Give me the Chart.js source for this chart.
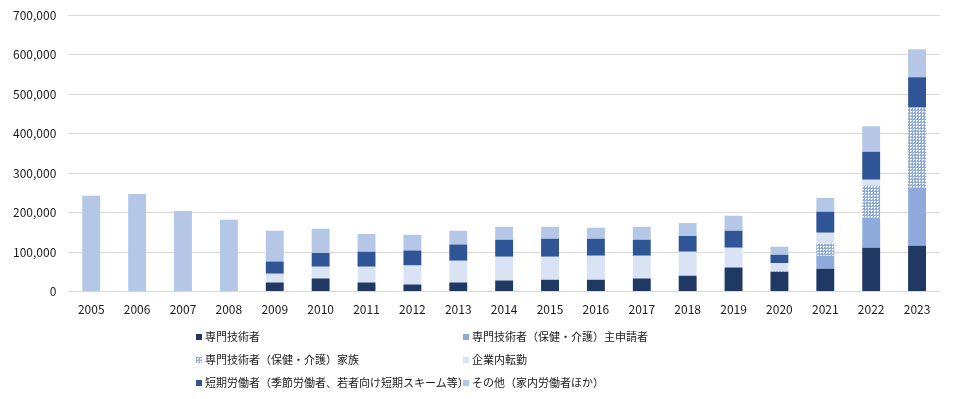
<!DOCTYPE html>
<html>
<head>
<meta charset="utf-8">
<script src="https://cdn.jsdelivr.net/npm/chart.js@4"></script>
<style>
body { margin: 0; background: #fff; font-family: "Noto Sans CJK JP", sans-serif; overflow: hidden; }
#wrap { position: relative; width: 954px; height: 399px; overflow: hidden; }
#chartBox { position: absolute; left: 0; top: -4px; width: 954px; height: 332px; }
#legend { position: absolute; left: 0; top: 0; width: 954px; height: 399px; pointer-events: none; }
.item { position: absolute; font-size: 11px; color: #1a1a1a; white-space: nowrap; line-height: 14px; }
.box { display: inline-block; width: 6px; height: 6px; margin-right: 3px; vertical-align: 1px; }
</style>
</head>
<body>
<div id="wrap">
  <div id="chartBox"><canvas id="canvas1"></canvas></div>
  <div id="legend"></div>
</div>
<script>
const years = ['2005','2006','2007','2008','2009','2010','2011','2012','2013','2014','2015','2016','2017','2018','2019','2020','2021','2022','2023'];

const skilled    = [0,0,0,0,23000,33000,23000,18000,23000,28000,30000,30000,33000,40000,61000,50000,58000,111000,116000];
const careMain   = [0,0,0,0,0,0,0,0,0,0,0,0,0,0,0,0,33000,76000,147000];
const careFamily = [0,0,0,0,0,0,0,0,0,0,0,0,0,0,0,1500,30000,81000,204000];
const transfer   = [0,0,0,0,22000,30000,40000,48000,55000,60000,58000,61000,58000,61000,50000,20000,28000,15000,0];
const shortTerm  = [0,0,0,0,31000,35000,38000,38000,41000,43000,46000,43000,40000,40000,43000,22000,53000,71000,76000];
const others     = [243000,247000,204000,182000,78000,61000,45000,40000,35000,33000,30000,28000,33000,33000,38000,20000,35000,65000,71000];

const seriesNames = [
    '専門技術者',
    '専門技術者（保健・介護）主申請者',
    '専門技術者（保健・介護）家族',
    '企業内転勤',
    '短期労働者（季節労働者、若者向け短期スキーム等）',
    'その他（家内労働者ほか）'
];

// dotted fill for the care family series
let tile = document.createElement('canvas');
tile.width = 3;
tile.height = 3;
let tctx = tile.getContext('2d');
tctx.fillStyle = '#8FAADC';
tctx.fillRect(0, 0, 3, 3);
tctx.fillStyle = '#ffffff';
tctx.fillRect(1, 1, 2, 1);
tctx.fillRect(1, 2, 1, 1);
const dotted = tctx.createPattern(tile, 'repeat');

const colors = ['#1F3864', '#8FAADC', dotted, '#DAE3F3', '#2F5597', '#B4C7E7'];
const values = [skilled, careMain, careFamily, transfer, shortTerm, others];

let datasets = [];
for (let i = 0; i < values.length; i++) {
    datasets.push({
        label: seriesNames[i],
        data: values[i],
        backgroundColor: colors[i],
        borderWidth: 0,
        barPercentage: 0.78,
        categoryPercentage: 0.5
    });
}

const ctx = document.getElementById('canvas1');
const chart1 = new Chart(ctx, {
    type: 'bar',
    data: {
        labels: years,
        datasets: datasets
    },
    options: {
        responsive: true,
        maintainAspectRatio: false,
        animation: false,
        layout: { padding: { left: 1, right: 14, top: 0, bottom: 0 } },
        plugins: {
            legend: { display: false },
            tooltip: { enabled: false }
        },
        scales: {
            x: {
                stacked: true,
                grid: { display: false, drawTicks: false },
                border: { color: '#d9d9d9', width: 1 },
                ticks: {
                    color: '#1a1a1a',
                    padding: 11,
                    font: { family: 'Noto Sans CJK JP', size: 12 }
                }
            },
            y: {
                stacked: true,
                min: 0,
                max: 700000,
                grid: { color: '#d9d9d9', drawTicks: false },
                border: { display: false },
                ticks: {
                    stepSize: 100000,
                    color: '#1a1a1a',
                    padding: 12,
                    font: { family: 'Noto Sans CJK JP', size: 12 },
                    callback: function (v) { return v.toLocaleString('en-US'); }
                }
            }
        }
    }
});

// legend in two columns under the chart
const legend = document.getElementById('legend');
const colX = [196, 463];
const rowY = [329, 352, 375];
for (let i = 0; i < seriesNames.length; i++) {
    let item = document.createElement('div');
    item.className = 'item';
    item.style.left = colX[i % 2] + 'px';
    item.style.top = rowY[Math.floor(i / 2)] + 'px';
    let box = document.createElement('span');
    box.className = 'box';
    if (i == 2) {
        box.style.backgroundImage = 'url(' + tile.toDataURL() + ')';
    } else {
        box.style.background = colors[i];
    }
    item.append(box);
    item.append(document.createTextNode(seriesNames[i]));
    legend.append(item);
}
</script>
</body>
</html>
